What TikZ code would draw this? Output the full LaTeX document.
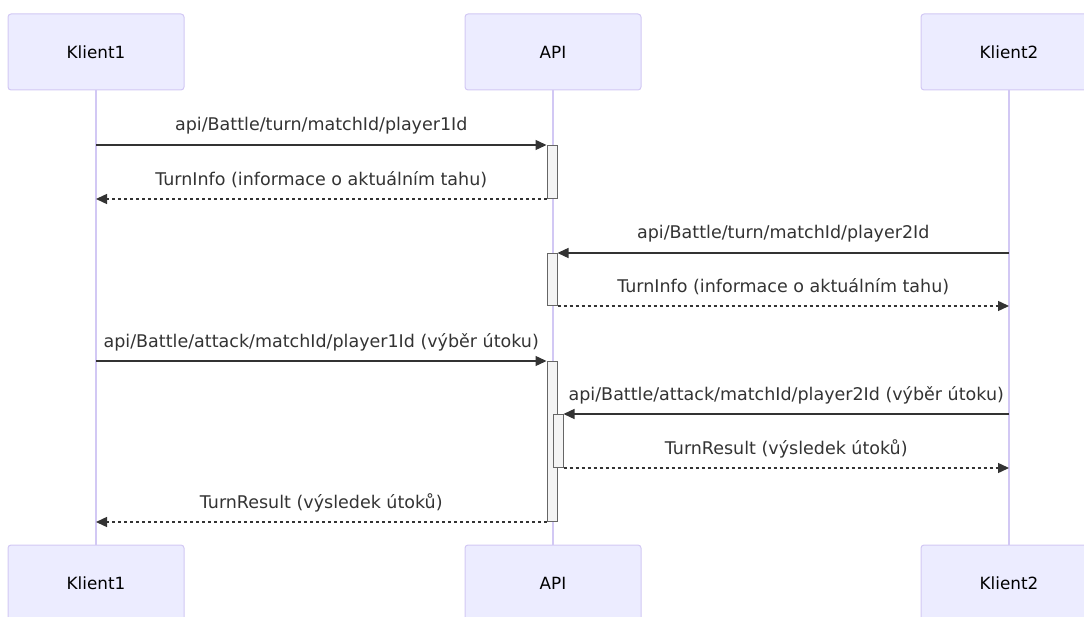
\documentclass[tikz,border=0pt]{standalone}
\usepackage{fontspec}
\setmainfont{DejaVu Sans}
\usetikzlibrary{arrows.meta,positioning}
\definecolor{actorfill}{HTML}{ECECFF}
\definecolor{actorline}{HTML}{D2C8F4}
\definecolor{actfill}{HTML}{F4F4F4}
\definecolor{actline}{HTML}{666666}
\definecolor{msgline}{HTML}{333333}

\begin{document}
\begin{tikzpicture}[x=1pt,y=-1pt,
    actor/.style={draw=actorline, fill=actorfill, rounded corners=3pt, line width=1pt,
      minimum width=176pt, minimum height=76pt, font=\fontsize{16.8}{20}\selectfont},
    lifeline/.style={draw=actorline, line width=1.2pt},
    activation/.style={draw=actline, fill=actfill, line width=1pt, anchor=north,
      minimum width=10pt, inner sep=0pt},
    msg/.style={draw=msgline, line width=1.4pt, -{Triangle[length=11pt,width=10pt]}},
    reply/.style={msg, dash pattern=on 3pt off 3pt},
    msglabel/.style={anchor=center, yshift=19pt, text=msgline, font=\fontsize{17.5}{20}\selectfont}]
        \useasboundingbox (0,0) rectangle (1084,617);
        % Actors top and bottom
        \node[actor] (k1top) at (96,52) {Klient1};
        \node[actor] (apitop) at (553,52) {API};
        \node[actor] (k2top) at (1009,52) {Klient2};
        \node[actor] (k1bot) at (96,583) {Klient1};
        \node[actor] (apibot) at (553,583) {API};
        \node[actor] (k2bot) at (1009,583) {Klient2};
        % Lifelines
        \draw[lifeline] (k1top) -- (k1bot);
        \draw[lifeline] (apitop) -- (apibot);
        \draw[lifeline] (k2top) -- (k2bot);
        % Activations
        \node[activation, minimum height=53pt] (act1) at (552,145) {};
        \node[activation, minimum height=52pt] (act2) at (552,253) {};
        \node[activation, minimum height=160pt] (act3) at (552,361) {};
        \node[activation, minimum height=53pt] (act4) at (558,414) {};
        % Turn of player 1
        \draw[msg] (k1top.south |- act1.north) -- node[msglabel] (l1) {api/Battle/turn/matchId/player1Id} (act1.north west);
        \draw[reply] (act1.south west) -- node[msglabel] (l2) {TurnInfo (informace o aktuálním tahu)} (k1top.south |- act1.south);
        % Turn of player 2
        \draw[msg] (k2top.south |- act2.north) -- node[msglabel] (l3) {api/Battle/turn/matchId/player2Id} (act2.north east);
        \draw[reply] (act2.south east) -- node[msglabel] (l4) {TurnInfo (informace o aktuálním tahu)} (k2top.south |- act2.south);
        % Attacks
        \draw[msg] (k1top.south |- act3.north) -- node[msglabel] (l5) {api/Battle/attack/matchId/player1Id (výběr útoku)} (act3.north west);
        \draw[msg] (k2top.south |- act4.north) -- node[msglabel] (l6) {api/Battle/attack/matchId/player2Id (výběr útoku)} (act4.north east);
        \draw[reply] (act4.south east) -- node[msglabel] (l7) {TurnResult (výsledek útoků)} (k2top.south |- act4.south);
        \draw[reply] (act3.south west) -- node[msglabel] (l8) {TurnResult (výsledek útoků)} (k1top.south |- act3.south);
      \end{tikzpicture}
\end{document}
